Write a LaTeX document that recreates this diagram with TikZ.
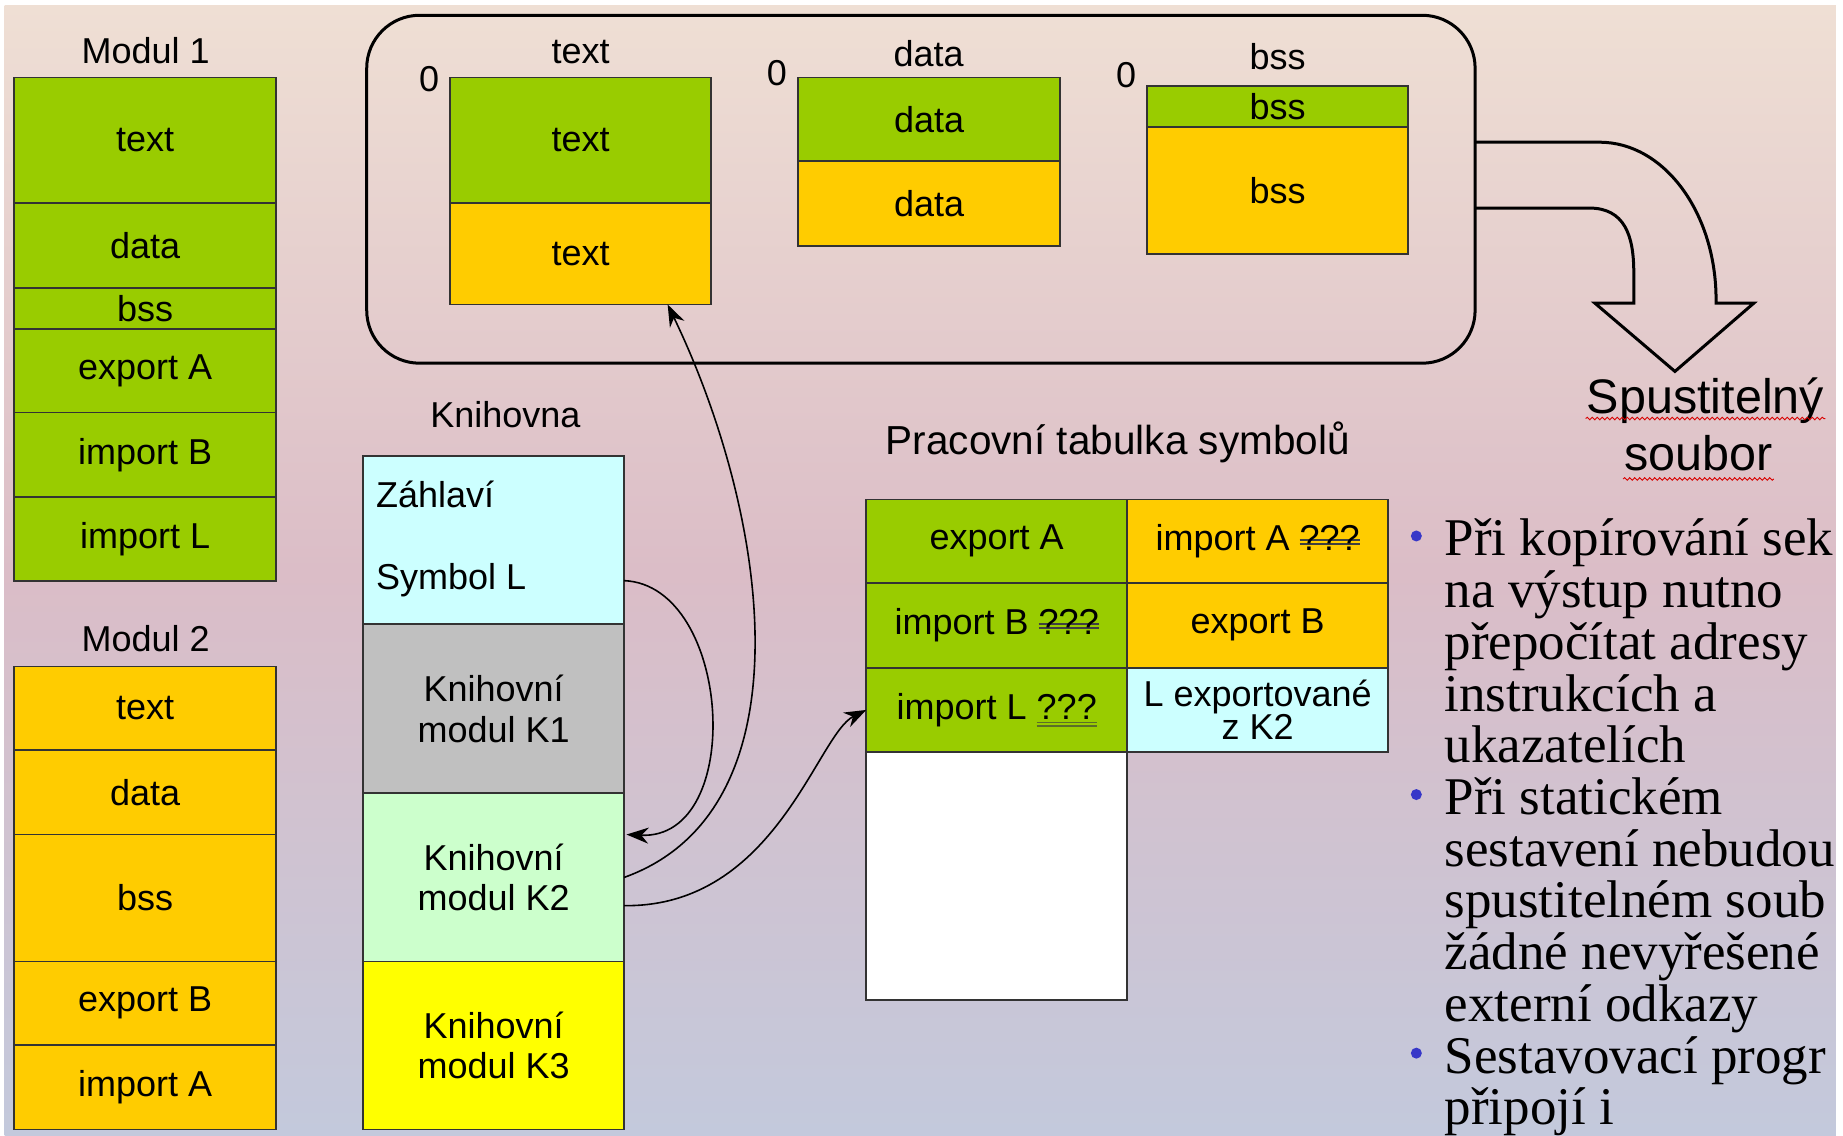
\documentclass[tikz,border=0pt]{standalone}
\usepackage{fontspec}
\newfontfamily\sansf{Liberation Sans}
\newfontfamily\seriff{Liberation Serif}
\usetikzlibrary{calc,arrows.meta,decorations.pathmorphing}
\definecolor{cgreen}{HTML}{99CC00}
\definecolor{corange}{HTML}{FFCC00}
\definecolor{ccyan}{HTML}{CCFFFF}
\definecolor{cgray}{HTML}{C0C0C0}
\definecolor{clgreen}{HTML}{CCFFCC}
\definecolor{cyellow}{HTML}{FFFF00}
\definecolor{bgtop}{HTML}{EFDFD4}
\definecolor{bgmid}{HTML}{DBBDC7}
\definecolor{bgbot}{HTML}{C3C9DC}
\definecolor{bullblue}{HTML}{3737C8}
\definecolor{ulcol}{HTML}{5A6E28}
\definecolor{strikecol}{HTML}{404040}
\newcommand\pxu{1.1754pt}
\newcommand\dstrike[1]{\setbox0\hbox{#1}\rlap{\color{strikecol}\rule[0.27em]{\wd0}{0.045em}}\rlap{\color{strikecol}\rule[0.16em]{\wd0}{0.045em}}\box0}
\newcommand\duline[1]{\setbox0\hbox{#1}\rlap{\color{ulcol}\rule[-0.12em]{\wd0}{0.05em}}\rlap{\color{ulcol}\rule[-0.22em]{\wd0}{0.05em}}\box0}
\newcommand\cellnode[8][]{\node[cell,fill=#7,minimum width={(#5-#3)*\pxu},minimum height={(#6-#4)*\pxu},#1] (#2) at ({(#3+#5)/2},{(#4+#6)/2}) {#8};}
\begin{document}
\begin{tikzpicture}[x=1.1754pt,y=-1.1754pt,
  lbl/.style={font=\sansf\fontsize{36}{40.5}\selectfont, inner sep=0pt, outer sep=0pt},
  cell/.style={lbl, draw=black!80, line width=1.8pt, align=center},
  conn/.style={line width=1.6pt, -{Stealth[length=22pt,width=16pt]}},
  btext/.style={font=\seriff\fontsize{53}{51.7}\selectfont, inner sep=0pt, anchor=base west},
  wavy/.style={draw=red!85!black, line width=0.9pt, decorate, decoration={snake, segment length=5pt, amplitude=1.3pt}},
  bigline/.style={line width=3pt}]
\useasboundingbox (0,0) rectangle (1568,966);
\fill[white] (0,0) rectangle (1568,966);
\shade[top color=bgtop,bottom color=bgbot,middle color=bgmid] (4,5) rectangle (1562,966);

% Modul 1
\node[lbl] (mod1) at (124,43) {Modul 1};
\cellnode{m1t}{12}{66}{235}{173}{cgreen}{text}
\cellnode{m1d}{12}{173}{235}{245}{cgreen}{data}
\cellnode{m1b}{12}{245}{235}{280}{cgreen}{bss}
\cellnode{m1e}{12}{280}{235}{351}{cgreen}{export A}
\cellnode{m1i}{12}{351}{235}{423}{cgreen}{import B}
\cellnode{m1l}{12}{423}{235}{494}{cgreen}{import L}

% Modul 2
\node[lbl] (mod2) at (124,543) {Modul 2};
\cellnode{m2t}{12}{567}{235}{638}{corange}{text}
\cellnode{m2d}{12}{638}{235}{710}{corange}{data}
\cellnode{m2b}{12}{710}{235}{818}{corange}{bss}
\cellnode{m2e}{12}{818}{235}{889}{corange}{export B}
\cellnode{m2i}{12}{889}{235}{961}{corange}{import A}

% output frame
\node[draw, bigline, rounded corners=52.9pt, minimum width={943*\pxu}, minimum height={296*\pxu}, inner sep=0pt, outer sep=0pt] (frame) at (783.5,161) {};
\node[lbl] (ttext) at (494,44) {text};
\node[lbl] (tdata) at (790,46) {data};
\node[lbl] (tbss) at (1087,48) {bss};
\node[lbl] (z1) at (365,67) {0};
\node[lbl] (z2) at (661,62) {0};
\node[lbl] (z3) at (958,64) {0};
\cellnode{st1}{383}{66}{605}{173}{cgreen}{text}
\cellnode{st2}{383}{173}{605}{259}{corange}{text}
\cellnode{sd1}{679}{66}{902}{137}{cgreen}{data}
\cellnode{sd2}{679}{137}{902}{209}{corange}{data}
\cellnode{sb1}{976}{73}{1198}{108}{cgreen}{bss}
\cellnode{sb2}{976}{108}{1198}{216}{corange}{bss}

% big arrow
\draw[bigline] (1255,121) -- (1361,121) .. controls (1415.6,121) and (1460,180.8) .. (1460,255) -- (1460,258) -- (1492,258) -- (1425,316) -- (1357,258) -- (1390,258) -- (1390,232) .. controls (1390,200) and (1382,177) .. (1352,177) -- (1255,177);
\node[lbl, font=\sansf\fontsize{48.5}{50}\selectfont, anchor=base] (sp1) at (1451,351.6) {Spustitelný};
\node[lbl, font=\sansf\fontsize{48.5}{50}\selectfont, anchor=base] (sp2) at (1445,400) {soubor};
\draw[wavy] ($(sp1.base west)+(-1,4.5)$) -- ($(sp1.base east)+(1,4.5)$);
\draw[wavy] ($(sp2.base west)+(-1,7.5)$) -- ($(sp2.base east)+(1,7.5)$);

% library
\node[lbl] (knih) at (430,353) {Knihovna};
\cellnode{lz}{309}{388}{531}{531}{ccyan}{}
\node[lbl, anchor=west] (zhl) at (320,421) {Záhlaví};
\node[lbl, anchor=west] (symL) at (320,494) {Symbol L};
\cellnode{lk1}{309}{531}{531}{675}{cgray}{Knihovní\\modul K1}
\cellnode{lk2}{309}{675}{531}{818}{clgreen}{Knihovní\\modul K2}
\cellnode{lk3}{309}{818}{531}{961}{cyellow}{Knihovní\\modul K3}

% symbol table
\node[lbl, font=\sansf\fontsize{40.5}{42}\selectfont, anchor=base] (prac) at (951,387) {Pracovní tabulka symbolů};
\cellnode{tEA}{737}{425}{959}{496}{cgreen}{export A}
\cellnode{tIA}{959}{425}{1181}{496}{corange}{import A \dstrike{???}}
\cellnode{tIB}{737}{496}{959}{568}{cgreen}{import B \dstrike{???}}
\cellnode{tEB}{959}{496}{1181}{568}{corange}{export B}
\cellnode{tIL}{737}{568}{959}{640}{cgreen}{import L \duline{???}}
\cellnode[font=\sansf\fontsize{36}{30.5}\selectfont]{tLx}{959}{568}{1181}{640}{ccyan}{L exportované\\z K2}
\cellnode{tE}{737}{640}{959}{851}{white}{}

% connectors
\coordinate (c1s) at (symL -| lz.east);
\coordinate (c1e) at ($(lk2.north east)+(2,35)$);
\draw[conn] (c1s) .. controls ($(c1s)+(92,4)$) and ($(c1e)+(102,5)$) .. (c1e);
\draw[conn] (lk2.east) .. controls ($(lk2.east)+(159,-57)$) and ($(st2.south)+(161,181)$) .. ($(st2.south)+(74,0)$);
\draw[conn] ($(lk2.east)+(0,24)$) .. controls ($(lk2.east)+(129,25.5)$) and ($(tIL.west)+(-42,21)$) .. (tIL.west);

% bullet text (the slide cuts the lines at the right edge)
\node[btext] (bl1) at (1229,473) {Při kopírování sek};
\node[btext] (bl2) at (1229,517) {na výstup nutno};
\node[btext] (bl3) at (1229,561) {přepočítat adresy};
\node[btext] (bl4) at (1229,605) {instrukcích a};
\node[btext] (bl5) at (1229,649) {ukazatelích};
\node[btext] (bl6) at (1229,693) {Při statickém};
\node[btext] (bl7) at (1229,737) {sestavení nebudou};
\node[btext] (bl8) at (1229,781) {spustitelném soub};
\node[btext] (bl9) at (1229,825) {žádné nevyřešené};
\node[btext] (bl10) at (1229,869) {externí odkazy};
\node[btext] (bl11) at (1229,913) {Sestavovací progr};
\node[btext] (bl12) at (1229,957) {připojí i};
\fill[bullblue] ($(bl1.base west)+(-24,-17)$) circle (5.5pt);
\fill[bullblue] ($(bl6.base west)+(-24,-17)$) circle (5.5pt);
\fill[bullblue] ($(bl11.base west)+(-24,-17)$) circle (5.5pt);
\end{tikzpicture}
\end{document}
